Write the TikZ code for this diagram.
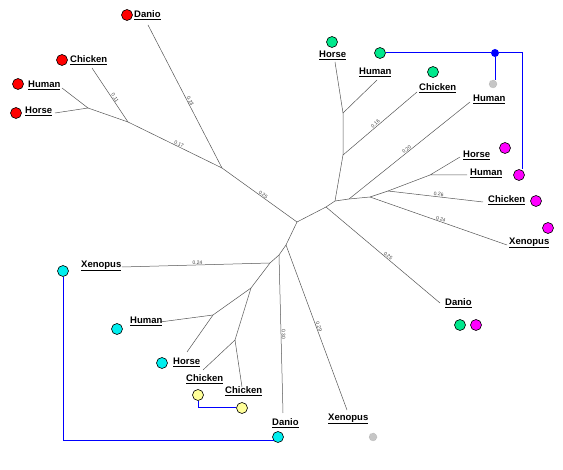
\documentclass[tikz,border=0pt]{standalone}
\usepackage{fontspec}
\setsansfont{Liberation Sans}
\definecolor{treeline}{HTML}{555555}
\definecolor{dotred}{HTML}{FF0000}
\definecolor{dotgreen}{HTML}{00E88C}
\definecolor{dotpink}{HTML}{FF00FF}
\definecolor{dotcyan}{HTML}{00EEEE}
\definecolor{dotyellow}{HTML}{FFFF99}
\definecolor{linkblue}{HTML}{0000FF}

\begin{document}
\begin{tikzpicture}[x=1pt,y=-1pt,font=\sffamily,
  branch/.style={treeline,line width=.5pt},
  elab/.style={sloped,above,inner sep=.6pt,font=\sffamily\fontsize{5}{5}\selectfont,text=black!75},
  taxon/.style={anchor=west,inner sep=1pt,font=\sffamily\bfseries\fontsize{9.5}{10}\selectfont},
  taxdot/.style={circle,draw=black,line width=.6pt,minimum size=11pt,inner sep=0pt},
  ghost/.style={circle,draw=gray!80,densely dotted,fill=gray!45,minimum size=8pt,inner sep=0pt},
  hubdot/.style={circle,fill=linkblue,minimum size=8pt,inner sep=0pt},
  bluelink/.style={draw=linkblue,line width=1pt}]
  \useasboundingbox (0,0) rectangle (563,470);

  % junctions of the tree
  \coordinate (root) at (297,222);
  \coordinate (a1) at (222,168);
  \coordinate (a2) at (128,122);
  \coordinate (a3) at (88,108);
  \coordinate (b1) at (326,207);
  \coordinate (b2) at (335,201);
  \coordinate (b3) at (349,199);
  \coordinate (b4) at (370,197);
  \coordinate (b5) at (388,191);
  \coordinate (b6) at (430,175);
  \coordinate (b7) at (343,155);
  \coordinate (b8) at (343,113);
  \coordinate (d1) at (286,245);
  \coordinate (d2) at (279,255);
  \coordinate (d3) at (270,263);
  \coordinate (d4) at (251,288);
  \coordinate (d5) at (213,315);
  \coordinate (d6) at (235,340);

  % tips
  \coordinate (tDanA) at (148,25);
  \coordinate (tChkA) at (92,68);
  \coordinate (tHumA) at (62,88);
  \coordinate (tHorA) at (55,113);
  \coordinate (tHorB) at (335,62);
  \coordinate (tHumB) at (377,80);
  \coordinate (tChkB) at (417,92);
  \coordinate (tHumC) at (470,102);
  \coordinate (tHorC) at (460,157);
  \coordinate (tHumD) at (467,175);
  \coordinate (tChkC) at (483,202);
  \coordinate (tXenB) at (507,245);
  \coordinate (tDanB) at (440,303);
  \coordinate (tXenC) at (347,410);
  \coordinate (tDanC) at (283,413);
  \coordinate (tXenD) at (122,267);
  \coordinate (tHumE) at (160,322);
  \coordinate (tHorE) at (187,352);
  \coordinate (tChkE) at (203,370);
  \coordinate (tChkF) at (242,387);

  % branches
  \draw[branch] (a1) -- node[elab,pos=.53] {0.25} (root);
  \draw[branch] (a2) -- node[elab,pos=.53] {0.17} (a1);
  \draw[branch] (tDanA) -- node[elab,pos=.54] {0.23} (a1);
  \draw[branch] (tChkA) -- node[elab,pos=.58] {0.11} (a2);
  \draw[branch] (a3) -- (a2);
  \draw[branch] (tHumA) -- (a3) -- (tHorA);
  \draw[branch] (root) -- (b1) -- (b2) -- (b3) -- (b4) -- (b5) -- (b6);
  \draw[branch] (b1) -- node[elab,pos=.53] {0.25} (tDanB);
  \draw[branch] (b2) -- (b7) -- (b8) -- (tHorB);
  \draw[branch] (b8) -- (tHumB);
  \draw[branch] (b7) -- node[elab,pos=.46] {0.16} (tChkB);
  \draw[branch] (b3) -- node[elab,pos=.49] {0.20} (tHumC);
  \draw[branch] (b4) -- node[elab,pos=.51] {0.24} (tXenB);
  \draw[branch] (b5) -- node[elab,pos=.53] {0.26} (tChkC);
  \draw[branch] (tHorC) -- (b6) -- (tHumD);
  \draw[branch] (root) -- (d1) -- (d2) -- (d3) -- (d4);
  \draw[branch] (d1) -- node[elab] {0.29} (tXenC);
  \draw[branch] (d2) -- node[elab] {0.30} (tDanC);
  \draw[branch] (d3) -- node[elab,pos=.49] {0.24} (tXenD);
  \draw[branch] (d4) -- (d5) -- (tHumE);
  \draw[branch] (d5) -- (tHorE);
  \draw[branch] (d4) -- (d6) -- (tChkE);
  \draw[branch] (d6) -- (tChkF);

  % taxon names
  \node[taxon] (nDanA) at (133,15) {\underline{Danio}};
  \node[taxon] (nChkA) at (69,60) {\underline{Chicken}};
  \node[taxon] (nHumA) at (27,85) {\underline{Human}};
  \node[taxon] (nHorA) at (24,111) {\underline{Horse}};
  \node[taxon] (nHorB) at (318,55) {\underline{Horse}};
  \node[taxon] (nHumB) at (358,72) {\underline{Human}};
  \node[taxon] (nChkB) at (418,88) {\underline{Chicken}};
  \node[taxon] (nHumC) at (472,99) {\underline{Human}};
  \node[taxon] (nHorC) at (462,155) {\underline{Horse}};
  \node[taxon] (nHumD) at (469,173) {\underline{Human}};
  \node[taxon] (nChkC) at (487,200) {\underline{Chicken}};
  \node[taxon] (nXenB) at (508,243) {\underline{Xenopus}};
  \node[taxon] (nDanB) at (444,303) {\underline{Danio}};
  \node[taxon] (nXenD) at (80,266) {\underline{Xenopus}};
  \node[taxon] (nHumE) at (129,321) {\underline{Human}};
  \node[taxon] (nHorE) at (172,362) {\underline{Horse}};
  \node[taxon] (nChkE) at (185,379) {\underline{Chicken}};
  \node[taxon] (nChkF) at (224,391) {\underline{Chicken}};
  \node[taxon] (nDanC) at (271,423) {\underline{Danio}};
  \node[taxon] (nXenC) at (327,419) {\underline{Xenopus}};

  % marks
  \node[taxdot,fill=dotred] (rDanA) at (127,15) {};
  \node[taxdot,fill=dotred] (rChkA) at (62,60) {};
  \node[taxdot,fill=dotred] (rHumA) at (18,84) {};
  \node[taxdot,fill=dotred] (rHorA) at (16,113) {};
  \node[taxdot,fill=dotgreen] (gHorB) at (332,42) {};
  \node[taxdot,fill=dotgreen] (gHumB) at (380,53) {};
  \node[taxdot,fill=dotgreen] (gChkB) at (433,72) {};
  \node[ghost] (xHumC) at (493,84) {};
  \node[taxdot,fill=dotpink] (pHorC) at (505,148) {};
  \node[taxdot,fill=dotpink] (pHumD) at (519,175) {};
  \node[taxdot,fill=dotpink] (pChkC) at (536,201) {};
  \node[taxdot,fill=dotpink] (pXenB) at (548,228) {};
  \node[taxdot,fill=dotgreen] (gDanB) at (460,325) {};
  \node[taxdot,fill=dotpink] (pDanB) at (476,325) {};
  \node[taxdot,fill=dotcyan] (cXenD) at (63,271) {};
  \node[taxdot,fill=dotcyan] (cHumE) at (117,329) {};
  \node[taxdot,fill=dotcyan] (cHorE) at (162,363) {};
  \node[taxdot,fill=dotyellow] (yChkE) at (198,395) {};
  \node[taxdot,fill=dotyellow] (yChkF) at (242,408) {};
  \node[taxdot,fill=dotcyan] (cDanC) at (278,437) {};
  \node[ghost] (xXenC) at (373,437) {};

  % links between marks
  \node[hubdot] (hub) at (495,53) {};
  \coordinate (cnr) at (522,53);
  \coordinate (cnrL) at (63,441);
  \draw[bluelink] (gHumB.east) -- (hub) -- (cnr) -- (pHumD.north -| cnr);
  \draw[bluelink] (hub) -- (hub |- xHumC.north);
  \draw[bluelink] (cXenD.south) -- (cnrL) -- (cDanC.south west |- cnrL);
  \draw[bluelink] (yChkE.south) |- (yChkF.west);
\end{tikzpicture}
\end{document}
